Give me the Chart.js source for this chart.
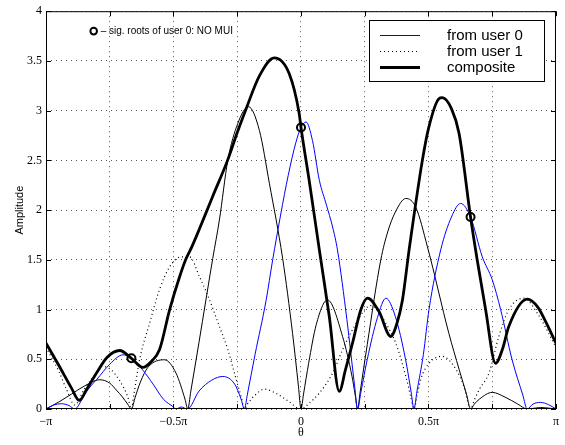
<!DOCTYPE html>
<html>
<head>
<meta charset="utf-8">
<script src="https://cdn.jsdelivr.net/npm/chart.js@4.4.0/dist/chart.umd.min.js"></script>
<style>
  html, body { margin: 0; padding: 0; background: #fff; }
</style>
</head>
<body>
<canvas id="chart" width="565" height="445"></canvas>
<script>
// theta is given in units of pi (-1 .. 1)
const thetaUser0 = [-1, -0.97, -0.94, -0.91, -0.887, -0.85, -0.828, -0.8, -0.75, -0.698, -0.665, -0.62, -0.58, -0.54, -0.5, -0.49, -0.47, -0.445, -0.4, -0.35, -0.307, -0.26, -0.235, -0.222, -0.21, -0.18, -0.137, -0.111, -0.08, -0.05, -0.02, 0, 0.02, 0.045, 0.072, 0.1, 0.124, 0.143, 0.18, 0.21, 0.222, 0.235, 0.26, 0.3, 0.333, 0.37, 0.41, 0.432, 0.443, 0.455, 0.48, 0.502, 0.548, 0.59, 0.626, 0.665, 0.711, 0.75, 0.783, 0.828, 0.87, 0.887, 0.91, 0.939, 0.97, 1];
const ampUser0 = [0, 0.04, 0.053, 0.035, 0, 0.14, 0.22, 0.3, 0.45, 0.545, 0.51, 0.39, 0.25, 0.1, 0.02, 0, 0.02, 0, 0.18, 0.29, 0.327, 0.25, 0.1, 0, 0.15, 0.55, 1.09, 1.5, 1.95, 2.35, 2.68, 2.83, 2.886, 2.7, 2.3, 2.05, 1.83, 1.6, 0.9, 0.24, 0, 0.17, 0.5, 0.92, 1.114, 0.93, 0.5, 0.17, 0, 0.18, 0.55, 1.0, 1.6, 1.93, 2.067, 1.93, 1.53, 1.3, 1.0, 0.495, 0.14, 0, 0.05, 0.066, 0.045, 0];

const thetaUser1 = [-1, -0.95, -0.92, -0.887, -0.85, -0.8, -0.78, -0.743, -0.71, -0.679, -0.665, -0.655, -0.633, -0.594, -0.555, -0.515, -0.47, -0.437, -0.398, -0.359, -0.32, -0.287, -0.261, -0.235, -0.222, -0.21, -0.18, -0.144, -0.1, -0.05, 0, 0.033, 0.072, 0.124, 0.163, 0.209, 0.254, 0.275, 0.294, 0.333, 0.372, 0.411, 0.43, 0.443, 0.455, 0.47, 0.502, 0.554, 0.6, 0.64, 0.665, 0.68, 0.7, 0.737, 0.776, 0.815, 0.874, 0.93, 1];
const ampUser1 = [0.62, 0.38, 0.2, 0.04, 0.2, 0.37, 0.43, 0.39, 0.28, 0.12, 0, 0.15, 0.495, 0.86, 1.2, 1.43, 1.53, 1.53, 1.33, 1.1, 0.83, 0.6, 0.36, 0.126, 0, 0.05, 0.14, 0.2, 0.16, 0.08, 0, 0.06, 0.16, 0.36, 0.595, 0.83, 1.01, 1.04, 1.01, 0.86, 0.66, 0.33, 0.13, 0, 0.13, 0.3, 0.46, 0.53, 0.43, 0.22, 0, 0.09, 0.2, 0.36, 0.73, 1.0, 1.114, 0.95, 0.62];

// thin black curve (not in the legend)
const thetaThin = [-1, -0.95, -0.9, -0.85, -0.789, -0.75, -0.724, -0.7, -0.68, -0.665, -0.65, -0.63, -0.6, -0.535, -0.49, -0.455, -0.444, -0.432, -0.4, -0.346, -0.32, -0.287, -0.248, -0.206, -0.163, -0.124, -0.072, -0.033, -0.01, 0, 0.01, 0.03, 0.06, 0.104, 0.163, 0.2, 0.212, 0.222, 0.232, 0.26, 0.313, 0.34, 0.37, 0.411, 0.45, 0.496, 0.58, 0.62, 0.65, 0.665, 0.68, 0.7, 0.75, 0.8, 0.85, 0.887, 0.94, 1];
const ampThin = [0, 0.07, 0.15, 0.23, 0.294, 0.26, 0.19, 0.12, 0.05, 0, 0.12, 0.27, 0.42, 0.495, 0.36, 0.1, 0, 0.18, 0.67, 1.515, 1.9, 2.5, 2.87, 3.04, 2.8, 2.27, 1.515, 0.76, 0.23, 0, 0.15, 0.46, 0.85, 1.097, 0.73, 0.33, 0.15, 0, 0.17, 0.65, 1.5, 1.78, 1.98, 2.117, 2.03, 1.63, 0.76, 0.4, 0.14, 0, 0.05, 0.1, 0.167, 0.12, 0.05, 0, 0.015, 0];

const thetaComposite = [-1, -0.95, -0.9, -0.87, -0.84, -0.8, -0.76, -0.711, -0.665, -0.62, -0.59, -0.555, -0.515, -0.476, -0.45, -0.43, -0.4, -0.346, -0.288, -0.25, -0.215, -0.163, -0.105, -0.046, -0.007, 0, 0.032, 0.072, 0.111, 0.15, 0.175, 0.202, 0.235, 0.261, 0.306, 0.352, 0.375, 0.398, 0.424, 0.476, 0.5, 0.541, 0.554, 0.59, 0.62, 0.665, 0.691, 0.724, 0.763, 0.79, 0.815, 0.887, 0.93, 0.959, 1];
const ampComposite = [0.662, 0.44, 0.21, 0.086, 0.2, 0.37, 0.52, 0.588, 0.51, 0.418, 0.47, 0.595, 1.0, 1.33, 1.515, 1.62, 1.8, 2.14, 2.5, 2.78, 3.02, 3.35, 3.53, 3.37, 2.97, 2.83, 2.3, 1.6, 0.93, 0.177, 0.4, 0.662, 1.0, 1.114, 0.98, 0.729, 0.85, 1.097, 1.6, 2.5, 2.82, 3.12, 3.13, 3.02, 2.77, 1.93, 1.5, 1.0, 0.46, 0.6, 0.83, 1.104, 1.02, 0.88, 0.662];

// significant roots of user 0 (circles)
const thetaRoots = [-0.665, 0, 0.665];
const ampRoots = [0.51, 2.83, 1.93];

const xTickValues = [-1, -0.5, 0, 0.5, 1];
const xTickLabels = ['\u2212\u03c0', '\u22120.5\u03c0', '0', '0.5\u03c0', '\u03c0'];

const toPoints = (xs, ys) => xs.map((x, i) => ({ x: x, y: ys[i] }));

// frame, inward ticks, legend box and the note in the upper left
const matlabPlugin = {
  id: 'matlabLook',
  afterDatasetsDraw(chart) {
    const { ctx, chartArea: a, scales } = chart;
    ctx.save();
    ctx.strokeStyle = '#000';
    ctx.lineWidth = 1;
    ctx.beginPath();
    scales.x.ticks.forEach((t) => {
      const px = Math.round(scales.x.getPixelForValue(t.value)) + 0.5;
      ctx.moveTo(px, a.bottom); ctx.lineTo(px, a.bottom - 5);
      ctx.moveTo(px, a.top); ctx.lineTo(px, a.top + 5);
    });
    scales.y.ticks.forEach((t) => {
      const py = Math.round(scales.y.getPixelForValue(t.value)) + 0.5;
      ctx.moveTo(a.left, py); ctx.lineTo(a.left + 5, py);
      ctx.moveTo(a.right, py); ctx.lineTo(a.right - 5, py);
    });
    ctx.stroke();
    ctx.strokeRect(a.left + 0.5, a.top + 0.5, a.right - a.left - 1, a.bottom - a.top - 1);

    // note with a circle
    const nx = scales.x.getPixelForValue(-0.813);
    const ny = scales.y.getPixelForValue(3.8);
    ctx.lineWidth = 2;
    ctx.beginPath();
    ctx.arc(nx, ny, 3.3, 0, Math.PI * 2);
    ctx.stroke();
    ctx.fillStyle = '#000';
    ctx.font = '10px "Liberation Sans", Arial, sans-serif';
    ctx.textBaseline = 'middle';
    ctx.fillText('\u2013 sig. roots of user 0: NO MUI', nx + 7, ny + 0.5);

    // legend
    const box = { left: 369, top: 20, right: 544, bottom: 81 };
    ctx.fillStyle = '#fff';
    ctx.fillRect(box.left, box.top, box.right - box.left, box.bottom - box.top);
    ctx.lineWidth = 1;
    ctx.strokeStyle = '#000';
    ctx.strokeRect(box.left + 0.5, box.top + 0.5, box.right - box.left, box.bottom - box.top);
    const items = chart.data.datasets.filter((d) => d.inLegend);
    items.sort((p, q) => p.legendRank - q.legendRank);
    ctx.font = '15px "Liberation Sans", Arial, sans-serif';
    items.forEach((d, i) => {
      const y = 35.5 + i * 16;
      ctx.save();
      ctx.strokeStyle = d.borderColor;
      ctx.lineWidth = d.borderWidth;
      ctx.setLineDash(d.borderDash || []);
      ctx.beginPath();
      ctx.moveTo(380, y); ctx.lineTo(420, y);
      ctx.stroke();
      ctx.restore();
      ctx.fillStyle = '#000';
      ctx.fillText(d.label, 447, y);
    });
    ctx.restore();
  }
};

const serif = { family: '"Liberation Serif", "Times New Roman", serif', size: 12 };

new Chart(document.getElementById('chart'), {
  type: 'line',
  data: {
    datasets: [
      {
        label: 'roots',
        data: toPoints(thetaRoots, ampRoots),
        showLine: false,
        pointRadius: 4,
        pointBorderWidth: 2,
        pointBorderColor: '#000',
        pointBackgroundColor: 'rgba(0,0,0,0)',
        order: 0
      },
      {
        label: 'composite',
        data: toPoints(thetaComposite, ampComposite),
        borderColor: '#000',
        borderWidth: 2.8,
        inLegend: true, legendRank: 2,
        order: 1
      },
      {
        label: 'from user 0',
        data: toPoints(thetaUser0, ampUser0),
        borderColor: '#0000ff',
        borderWidth: 1,
        inLegend: true, legendRank: 0,
        order: 2
      },
      {
        label: 'thin',
        data: toPoints(thetaThin, ampThin),
        borderColor: '#000',
        borderWidth: 1,
        order: 3
      },
      {
        label: 'from user 1',
        data: toPoints(thetaUser1, ampUser1),
        borderColor: '#000',
        borderWidth: 1.2,
        borderDash: [1, 3],
        inLegend: true, legendRank: 1,
        order: 4
      }
    ]
  },
  options: {
    responsive: false,
    animation: false,
    layout: { padding: { top: 11, right: 8, left: 0, bottom: 0 } },
    elements: {
      point: { radius: 0 },
      line: { cubicInterpolationMode: 'monotone', fill: false }
    },
    plugins: {
      legend: { display: false },
      tooltip: { enabled: false }
    },
    scales: {
      x: {
        type: 'linear',
        min: -1,
        max: 1,
        afterFit: (scale) => { scale.height = 36; },
        grid: { color: '#555', drawTicks: false },
        border: { display: false, dash: [1, 4] },
        ticks: {
          stepSize: 0.25,
          autoSkip: false,
          maxRotation: 0,
          padding: 6,
          color: '#000',
          font: serif,
          callback: (v) => {
            const i = xTickValues.findIndex((t) => Math.abs(t - v) < 1e-6);
            return i >= 0 ? xTickLabels[i] : '';
          }
        },
        title: {
          display: true,
          text: '\u03b8',
          color: '#000',
          font: serif,
          padding: { top: 0, bottom: 5 }
        }
      },
      y: {
        min: 0,
        max: 4,
        afterFit: (scale) => { scale.width = 46; },
        grid: { color: '#555', drawTicks: false },
        border: { display: false, dash: [1, 4] },
        ticks: {
          stepSize: 0.5,
          padding: 4,
          color: '#000',
          font: serif,
          callback: (v) => String(v)
        },
        title: {
          display: true,
          text: 'Amplitude',
          color: '#000',
          font: { family: '"Liberation Sans", Arial, sans-serif', size: 11 },
          padding: { top: 13, bottom: 0 }
        }
      }
    }
  },
  plugins: [matlabPlugin]
});
</script>
</body>
</html>
